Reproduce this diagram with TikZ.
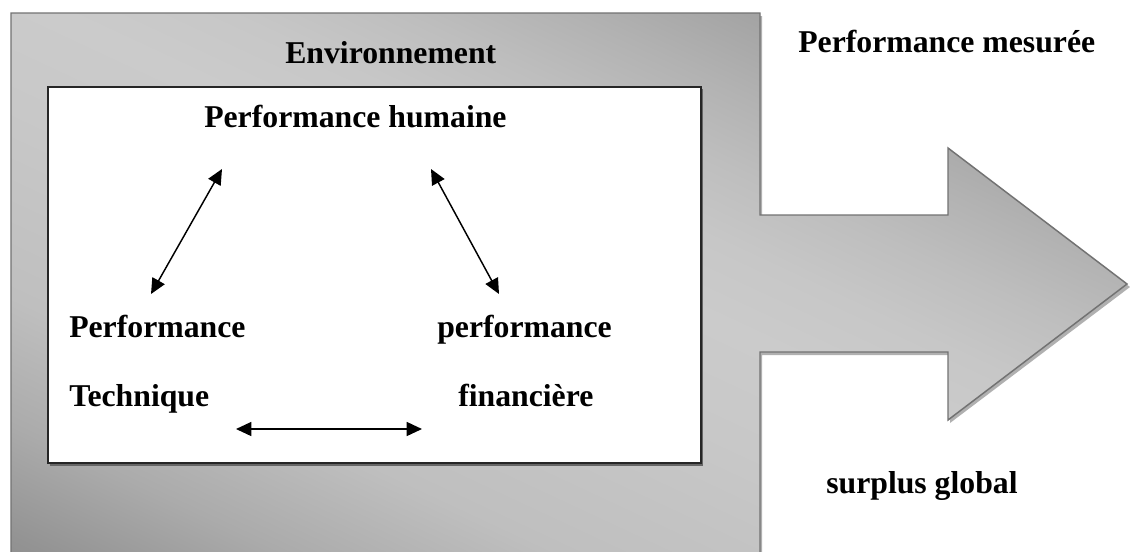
\documentclass[tikz,border=0pt]{standalone}
\usepackage{fontspec}
\setmainfont{Liberation Serif}
\usetikzlibrary{arrows.meta}
\definecolor{s00}{HTML}{5C5C5C}
\definecolor{s10}{HTML}{7E7E7E}
\definecolor{s18}{HTML}{939393}
\definecolor{s25}{HTML}{ABABAB}
\definecolor{s33}{HTML}{BFBFBF}
\definecolor{s45}{HTML}{C8C8C8}
\definecolor{s52}{HTML}{CBCBCB}
\definecolor{s57}{HTML}{C7C7C7}
\definecolor{s62}{HTML}{BEBEBE}
\definecolor{s67}{HTML}{B2B2B2}
\definecolor{s75}{HTML}{9C9C9C}
\definecolor{s79}{HTML}{929292}
\definecolor{s84}{HTML}{7E7E7E}
\definecolor{s100}{HTML}{666666}
\definecolor{edgegray}{HTML}{727272}
\definecolor{shadowgray}{HTML}{B0B0B0}
\pgfdeclareverticalshading{envshade}{100bp}{color(0bp)=(s00); color(10bp)=(s10); color(18bp)=(s18); color(25bp)=(s25); color(33bp)=(s33); color(45bp)=(s45); color(52bp)=(s52); color(57bp)=(s57); color(62bp)=(s62); color(67bp)=(s67); color(75bp)=(s75); color(79bp)=(s79); color(84bp)=(s84); color(100bp)=(s100)}
\tikzset{
  lbl/.style={font=\bfseries\fontsize{23.8}{28}\selectfont, inner sep=0pt, anchor=base west},
  dbl/.style={{Triangle[length=11.5pt,width=10.5pt]}-{Triangle[length=11.5pt,width=10.5pt]}, line width=1.1pt, black},
}
\begin{document}
\begin{tikzpicture}[x=0.75pt,y=-0.75pt]
\useasboundingbox (0,0) rectangle (1130,551);
\fill[white] (0,0) rectangle (1130,551);
% shadow of the big shape
\fill[shadowgray] (13,16) -- (762,16) -- (762,215) -- (950,215) -- (950,151) -- (1130,287) -- (950,423) -- (950,355) -- (762,355) -- (762,556) -- (13,556) -- cycle;
% big shape (environment + arrow)
\path[shading=envshade, shading angle=-25, draw=edgegray, line width=1.1pt]
  (11,13) -- (760,13) -- (760,215) -- (948,215) -- (948,148) -- (1127,284)
  -- (948,420) -- (948,352) -- (760,352) -- (760,556) -- (11,556) -- cycle;
% inner box
\fill[gray!80!black] (50,89) rectangle (703,466);
\draw[fill=white, draw=black!85, line width=1pt] (48,87) rectangle (701,463);
% texts
\node[lbl] (env) at (285,63) {Environnement};
\node[lbl] (mes) at (798,52) {Performance mesurée};
\node[lbl] (hum) at (204,127) {Performance humaine};
\node[lbl] (tec1) at (69,337) {Performance};
\node[lbl] (tec2) at (69,406) {Technique};
\node[lbl] (fin1) at (437,337) {performance};
\node[lbl] (fin2) at (458,406) {financière};
\node[lbl] (sur) at (826,493) {surplus global};
% arrow end points
\coordinate (a1) at (151,294);
\coordinate (a2) at (222,169);
\coordinate (b1) at (431,169);
\coordinate (b2) at (499,294);
\coordinate (c1) at (236,429);
\coordinate (c2) at (422,429);
\draw[dbl] (a1) -- (a2);
\draw[dbl] (b1) -- (b2);
\draw[dbl] (c1) -- (c2);
\end{tikzpicture}
\end{document}
